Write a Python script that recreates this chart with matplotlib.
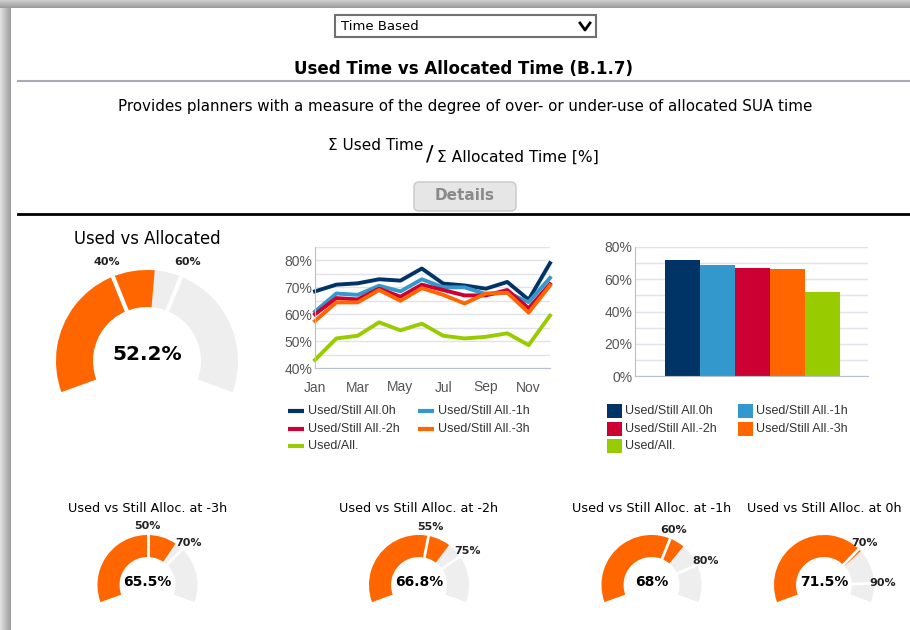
import numpy as np
import matplotlib
matplotlib.use("Agg")
import matplotlib.pyplot as plt
from matplotlib.patches import Wedge, Rectangle, FancyBboxPatch

W, H = 910, 630

# --- data ---
months = ["Jan", "Feb", "Mar", "Apr", "May", "Jun", "Jul", "Aug", "Sep", "Oct", "Nov", "Dec"]
used_still_0h = [68.5, 71.0, 71.5, 73.0, 72.5, 77.0, 71.4, 70.7, 69.5, 72.0, 65.4, 79.0]
used_still_1h = [61.0, 67.7, 67.2, 70.6, 68.5, 73.0, 70.0, 70.0, 67.5, 68.0, 64.5, 73.5]
used_still_2h = [60.0, 66.0, 65.5, 69.5, 66.5, 71.0, 69.0, 67.0, 67.0, 69.0, 62.2, 71.2]
used_still_3h = [57.5, 64.4, 64.4, 69.0, 65.0, 69.7, 67.2, 64.0, 67.7, 68.0, 60.6, 70.7]
used_all = [43.0, 51.0, 52.0, 57.0, 54.0, 56.5, 52.0, 51.0, 51.6, 52.9, 48.5, 59.5]

series_names = ["Used/Still All.0h", "Used/Still All.-1h", "Used/Still All.-2h",
                "Used/Still All.-3h", "Used/All."]
series_colors = ["#003366", "#3399cc", "#cc0033", "#ff6600", "#99cc00"]

bar_values = [72.1, 68.8, 66.9, 66.3, 52.4]

gauge_titles = ["Used vs Allocated", "Used vs Still Alloc. at -3h", "Used vs Still Alloc. at -2h",
                "Used vs Still Alloc. at -1h", "Used vs Still Alloc. at 0h"]
gauge_values = [52.2, 65.5, 66.8, 68.0, 71.5]
gauge_labels = ["52.2%", "65.5%", "66.8%", "68%", "71.5%"]
gauge_bands = [(40, 60), (50, 70), (55, 75), (60, 80), (70, 90)]

ORANGE = "#ff6600"
GREY = "#eeeeee"
G0, G1 = -110, 110  # gauge start / end angle from vertical
CHART_FONT = "Liberation Sans"

fig = plt.figure(figsize=(W / 100, H / 100), dpi=100, facecolor="white")
bg = fig.add_axes([0, 0, 1, 1], zorder=0)
bg.set_xlim(0, W)
bg.set_ylim(0, H)
bg.axis("off")


def Y(y):
    return H - y


# window shadow on the left and top
left = np.linspace(0.88, 0.62, 12)[None, :]
bg.imshow(np.dstack([left] * 3), extent=(0, 11, 0, H - 8), aspect="auto", zorder=1)
top = np.linspace(0.80, 0.62, 8)[:, None]
bg.imshow(np.dstack([np.repeat(top, 2, axis=1)] * 3), extent=(0, W, H - 8, H), aspect="auto", zorder=1)

# --- header ---
bg.add_patch(Rectangle((335, Y(37)), 261, 22, fc="white", ec="#707070", lw=1.5))
bg.text(341, Y(26.5), "Time Based", fontsize=9.5, ha="left", va="center")
bg.plot([580, 585, 590], [Y(23), Y(30), Y(23)], color="black", lw=2)

bg.text(464, Y(69), "Used Time vs Allocated Time (B.1.7)", fontsize=12, weight="bold",
        ha="center", va="center")
bg.plot([18, W], [Y(81), Y(81)], color="#a9a9b8", lw=1.5)
bg.text(465, Y(107), "Provides planners with a measure of the degree of over- or under-use of allocated SUA time",
        fontsize=10.9, ha="center", va="center")
bg.text(328, Y(145), "Σ Used Time", fontsize=11, ha="left", va="center")
bg.text(430, Y(154), "/", fontsize=16, ha="center", va="center")
bg.text(437, Y(157), "Σ Allocated Time [%]", fontsize=11.2, ha="left", va="center")

bg.add_patch(FancyBboxPatch((414, Y(211)), 102, 29, boxstyle="round,pad=0,rounding_size=5",
                            fc="#e6e6e6", ec="#c8c8c8", lw=1))
bg.text(465, Y(196), "Details", fontsize=11, weight="bold", color="#8a8a8a", ha="center", va="center")
bg.plot([18, W], [Y(214), Y(214)], color="black", lw=2)


# --- gauges ---
def draw_gauge(cx, cy, R, r, value, label, bands, title, title_y, val_size, lab_off, gap_lw, title_size):
    cyu = Y(cy)
    bg.add_patch(Wedge((cx, cyu), R, 90 - G1, 90 - G0, width=R - r, fc=GREY, ec="none"))
    ang = G0 + (G1 - G0) * value / 100
    bg.add_patch(Wedge((cx, cyu), R, 90 - ang, 90 - G0, width=R - r, fc=ORANGE, ec="none"))
    for b in bands:
        a = np.deg2rad(G0 + (G1 - G0) * b / 100)
        bg.plot([cx + (r - 1) * np.sin(a), cx + (R + 1) * np.sin(a)],
                [cyu + (r - 1) * np.cos(a), cyu + (R + 1) * np.cos(a)],
                color="white", lw=gap_lw, solid_capstyle="butt")
        bg.text(cx + (R + lab_off) * np.sin(a), cyu + (R + lab_off) * np.cos(a), f"{b}%",
                fontsize=8, weight="bold", color="#222222", ha="center", va="center")
    bg.text(cx, cyu + 0.07 * R, label, fontsize=val_size, weight="bold", ha="center", va="center")
    bg.text(cx, Y(title_y), title, fontsize=title_size, ha="center", va="center")


gauge_pos = [(147, 361), (147.5, 585), (419, 585), (651.5, 585), (824, 585)]
for i, (cx, cy) in enumerate(gauge_pos):
    if i == 0:
        draw_gauge(cx, cy, 91, 54, gauge_values[i], gauge_labels[i], gauge_bands[i],
                   gauge_titles[i], 239, 14.5, 16, 3, 11.9)
    else:
        draw_gauge(cx, cy, 50, 28, gauge_values[i], gauge_labels[i], gauge_bands[i],
                   gauge_titles[i], 509, 10, 9, 2, 9.2)

# --- line chart ---
ax1 = fig.add_axes([315 / W, (H - 368) / H, 235 / W, 121 / H], zorder=2)
ax1.patch.set_alpha(0)
x = np.arange(len(months))
for vals, name, col in zip([used_still_0h, used_still_1h, used_still_2h, used_still_3h, used_all],
                           series_names, series_colors):
    ax1.plot(x, vals, color=col, lw=2.8, solid_joinstyle="round", clip_on=False)
ax1.set_xlim(0, 11)
ax1.set_ylim(40, 85)
ax1.set_yticks(range(40, 90, 10), [f"{v}%" for v in range(40, 90, 10)])
ax1.set_yticks(range(45, 90, 10), minor=True)
ax1.set_xticks(x[::2], months[::2])
ax1.grid(True, axis="y", which="both", color="#e2e2ea", lw=1)
ax1.set_axisbelow(True)
ax1.tick_params(axis="both", which="both", length=0, labelsize=10, labelcolor="#555555")
ax1.tick_params(axis="y", pad=2)
ax1.tick_params(axis="x", pad=9)
for s in ["top", "right"]:
    ax1.spines[s].set_visible(False)
for s in ["left", "bottom"]:
    ax1.spines[s].set_color("#b8c0d0")
for lab in ax1.get_xticklabels() + ax1.get_yticklabels():
    lab.set_fontfamily(CHART_FONT)

# --- bar chart ---
ax2 = fig.add_axes([635 / W, (H - 376) / H, 233 / W, 129 / H], zorder=2)
ax2.patch.set_alpha(0)
ax2.bar(np.arange(len(bar_values)), bar_values, width=1.0, color=series_colors)
ax2.set_xlim(-1.357, 5.3)
ax2.set_ylim(0, 80)
ax2.set_yticks(range(0, 90, 20), [f"{v}%" for v in range(0, 90, 20)])
ax2.set_yticks(range(10, 80, 20), minor=True)
ax2.set_xticks([])
ax2.grid(True, axis="y", which="both", color="#e2e2ea", lw=1)
ax2.set_axisbelow(True)
ax2.tick_params(axis="both", which="both", length=0, labelsize=10, labelcolor="#555555", pad=2)
for s in ["top", "right"]:
    ax2.spines[s].set_visible(False)
for s in ["left", "bottom"]:
    ax2.spines[s].set_color("#b8c0d0")
for lab in ax2.get_yticklabels():
    lab.set_fontfamily(CHART_FONT)

# --- legends ---
leg_rows = [411, 429, 446]
line_cols = [288, 418]
bar_cols = [607, 738]
for i, (name, col) in enumerate(zip(series_names, series_colors)):
    ry = Y(leg_rows[i // 2])
    lx = line_cols[i % 2]
    bg.plot([lx, lx + 16], [ry, ry], color=col, lw=3, solid_capstyle="butt")
    bg.text(lx + 20, ry, name, fontsize=9, color="#333333", family=CHART_FONT, ha="left", va="center")
    bx = bar_cols[i % 2]
    bg.add_patch(Rectangle((bx, ry - 7), 15, 14, fc=col, ec="none"))
    bg.text(bx + 18, ry, name, fontsize=9, color="#333333", family=CHART_FONT, ha="left", va="center")

fig.savefig("out.png", dpi=100, facecolor="white")
